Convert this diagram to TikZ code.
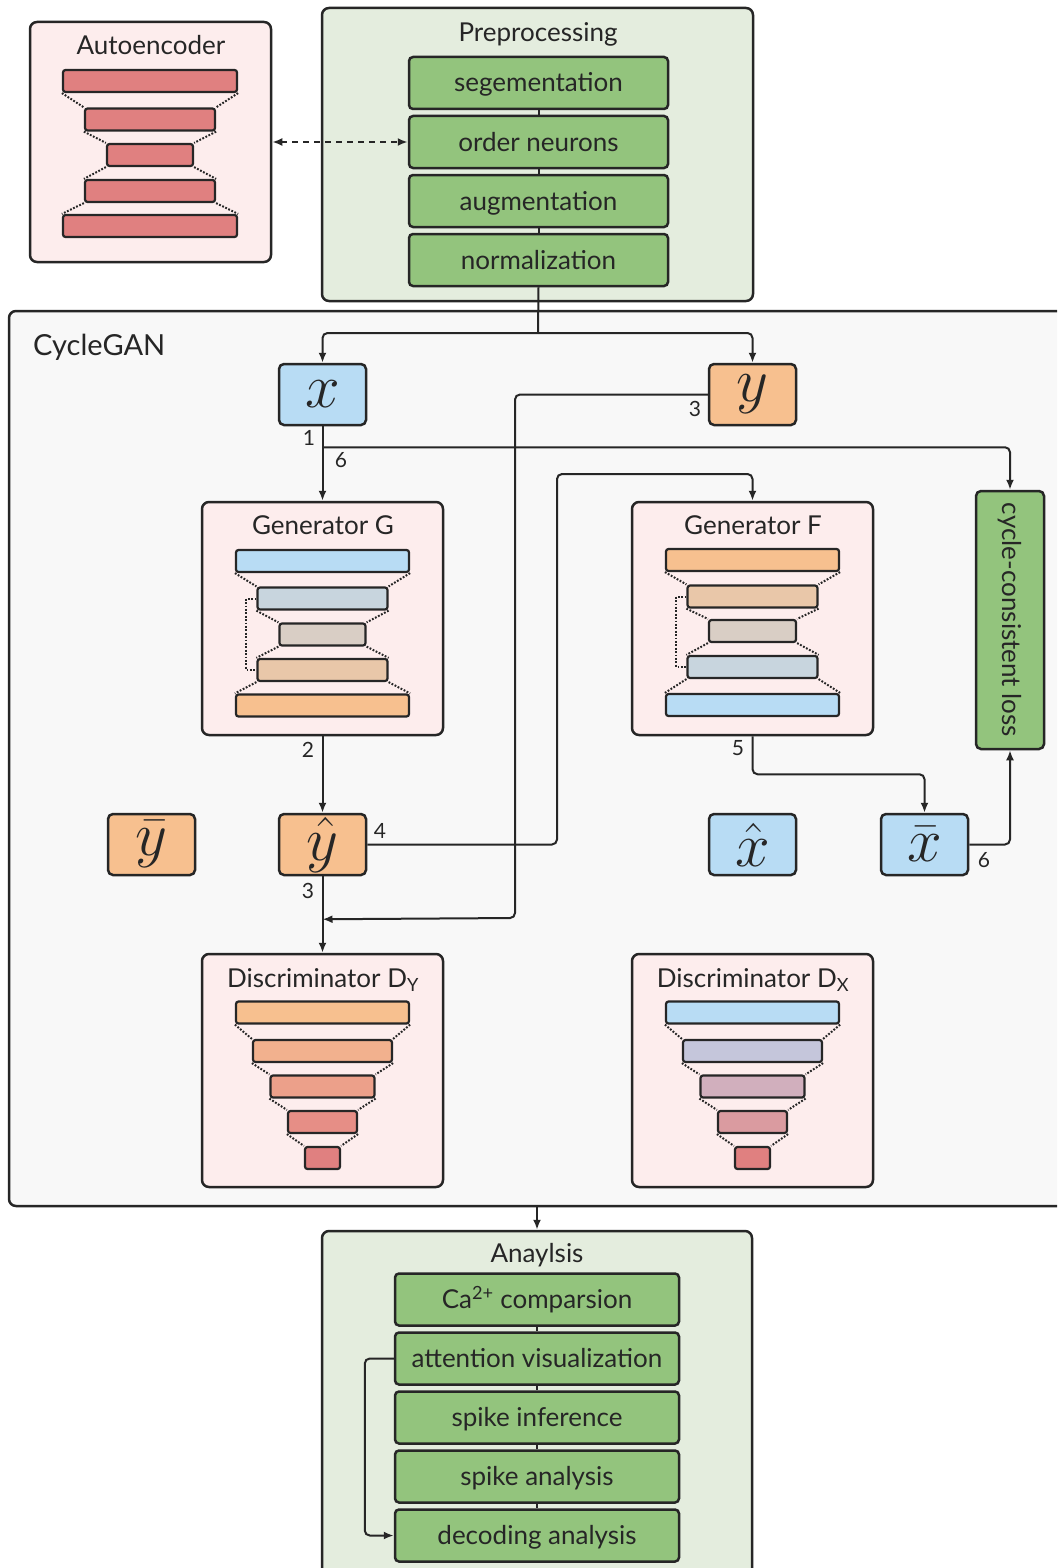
\documentclass[tikz,border=0pt]{standalone}
\usepackage{fontspec}
\setmainfont{Lato}
\usepackage{graphicx}
\usepackage{tikz}
\usetikzlibrary{arrows.meta, positioning}
\usepackage{xcolor}
\definecolor{ink}{HTML}{262626}
\definecolor{blush}{HTML}{FDEDED}
\definecolor{sage}{HTML}{E4EDDE}
\definecolor{fog}{HTML}{F8F8F8}
\definecolor{leaf}{HTML}{93C47D}
\definecolor{ice}{HTML}{B8DCF4}
\definecolor{apricot}{HTML}{F7C08F}
\definecolor{coral}{HTML}{E08080}
\definecolor{slate}{HTML}{C8D5DE}
\definecolor{sand}{HTML}{D9CEC5}
\definecolor{peach}{HTML}{E9C7A9}
\definecolor{dyb}{HTML}{F2B18E}
\definecolor{dyc}{HTML}{ECA08A}
\definecolor{dyd}{HTML}{E68E86}
\definecolor{dxb}{HTML}{C5C6DB}
\definecolor{dxc}{HTML}{D1AFBD}
\definecolor{dxd}{HTML}{DA9BA0}
\newcommand{\bigvar}[1]{\scalebox{2.5}{$#1$}}

\begin{document}
\begin{tikzpicture}[
    x=1pt, y=-1pt,
    node distance=4.5pt,
    panel/.style={rectangle, rounded corners=7pt, draw=ink, line width=2.5pt, inner sep=0pt},
    netbox/.style={panel, fill=blush, minimum width=241pt, minimum height=233pt},
    heading/.style={anchor=base, inner sep=0pt, text=ink, font=\fontsize{26}{30}\selectfont},
    stepbox/.style={rectangle, rounded corners=4pt, draw=ink, fill=leaf, line width=2.5pt,
                    text=ink, minimum height=52pt, text height=23pt, text depth=5pt,
                    inner sep=0pt, font=\fontsize{26}{30}\selectfont},
    var/.style={rectangle, rounded corners=5pt, draw=ink, line width=2.5pt, text=ink,
                minimum width=87pt, minimum height=61pt, inner sep=0pt,
                font=\fontsize{24.88}{28}\selectfont},
    slab/.style={rectangle, rounded corners=2.5pt, draw=ink, line width=2.2pt,
                 minimum height=22pt, inner sep=0pt},
    funnel/.style={draw=ink, line width=2pt, dash pattern=on 1.8pt off 1.6pt},
    num/.style={inner sep=0pt, text=ink, font=\fontsize{21}{24}\selectfont},
    arr/.style={-{Latex[length=10pt, width=8pt]}, line width=2pt, draw=ink, rounded corners=5pt},
    link/.style={line width=2pt, draw=ink},
    darr/.style={{Latex[length=10pt, width=8pt]}-{Latex[length=10pt, width=8pt]},
                 line width=2pt, draw=ink, dash pattern=on 6pt off 5pt},
  ]
    \useasboundingbox (0,0) rectangle (1057,1568);
    \clip (0,0) rectangle (1057,1568);
    \fill[white] (0,0) rectangle (1057,1568);

    % Panels
    \node[panel, fill=fog, minimum width=1066pt, minimum height=895pt] (cg) at (542,758.5) {};
    \node[panel, fill=blush, minimum width=241pt, minimum height=240pt] (ae) at (150.5,142) {};
    \node[panel, fill=sage, minimum width=431pt, minimum height=293pt] (pre) at (537.5,154.5) {};
    \node[panel, fill=sage, minimum width=430pt, minimum height=349pt] (ana) at (537,1405.5) {};

    \node[heading] (aet) at (151,55) {Autoencoder};
    \node[heading] (pret) at (538,42) {Preprocessing};
    \node[heading, anchor=base west, font=\fontsize{29}{33}\selectfont] (cgt) at (33,355) {CycleGAN};
    \node[heading] (anat) at (537,1262) {Anaylsis};

    % Preprocessing steps
    \node[stepbox, minimum width=259pt] (seg) at (538.5,83) {segementation};
    \node[stepbox, minimum width=259pt, below=of seg] (order) {order neurons};
    \node[stepbox, minimum width=259pt, below=of order] (aug) {augmentation};
    \node[stepbox, minimum width=259pt, below=of aug] (norm) {normalization};
    \foreach \a/\b in {seg/order, order/aug, aug/norm}
      \draw[link] (\a.south) -- (\b.north);

    % Analysis steps
    \node[stepbox, minimum width=284pt] (ca) at (537,1299.5) {Ca\textsuperscript{2+} comparsion};
    \node[stepbox, minimum width=284pt, below=of ca] (att) {attention visualization};
    \node[stepbox, minimum width=284pt, below=of att] (inf) {spike inference};
    \node[stepbox, minimum width=284pt, below=of inf] (spk) {spike analysis};
    \node[stepbox, minimum width=284pt, below=of spk] (dec) {decoding analysis};
    \foreach \a/\b in {ca/att, att/inf, inf/spk, spk/dec}
      \draw[link] (\a.south) -- (\b.north);

    % Autoencoder layers
    \foreach \w/\yy [count=\i] in {174/81, 130/119.5, 86/155, 130/191, 174/226}
      \node[slab, fill=coral, minimum width=\w pt] (ae\i) at (150,\yy) {};

    % Networks
    \node[netbox] (genG) at (322.5,618.5) {};
    \node[netbox] (genF) at (752.5,618.5) {};
    \node[netbox] (discY) at (322.5,1070.5) {};
    \node[netbox] (discX) at (752.5,1070.5) {};
    \node[heading] (gt) at (323,534) {Generator G};
    \node[heading] (ft) at (753,534) {Generator F};
    \node[heading] (dyt) at (323,987) {Discriminator D\textsubscript{Y}};
    \node[heading] (dxt) at (753,987) {Discriminator D\textsubscript{X}};

    \foreach \w/\yy/\c [count=\i] in {173/561/ice, 130/598.5/slate, 86/634.5/sand, 130/670/peach, 173/705.5/apricot}
      \node[slab, fill=\c, minimum width=\w pt] (g\i) at (322.5,\yy) {};
    \foreach \w/\yy/\c [count=\i] in {173/560/apricot, 130/596.5/peach, 87/631/sand, 130/667/slate, 173/705/ice}
      \node[slab, fill=\c, minimum width=\w pt] (f\i) at (752.5,\yy) {};
    \foreach \w/\yy/\c [count=\i] in {173/1012.5/apricot, 139/1051/dyb, 104/1086.5/dyc, 69/1122/dyd, 35/1158/coral}
      \node[slab, fill=\c, minimum width=\w pt] (dy\i) at (322.5,\yy) {};
    \foreach \w/\yy/\c [count=\i] in {173/1012.5/ice, 139/1051/dxb, 104/1086.5/dxc, 69/1122/dxd, 35/1158/coral}
      \node[slab, fill=\c, minimum width=\w pt] (dx\i) at (752.5,\yy) {};

    % dotted funnels between layers
    \foreach \s in {ae, g, f, dy, dx}
      \foreach \i/\j in {1/2, 2/3, 3/4, 4/5} {
        \draw[funnel] (\s\i.south west) -- (\s\j.north west);
        \draw[funnel] (\s\i.south east) -- (\s\j.north east);
      }
    \draw[funnel] (g2.west) -- ++(-10,0) |- (g4.west);
    \draw[funnel] (f2.west) -- ++(-10,0) |- (f4.west);

    % Variables
    \node[var, fill=ice] (xin) at (322.5,394.5) {\bigvar{x}};
    \node[var, fill=apricot] (yin) at (752.5,394.5) {\bigvar{y}};
    \node[var, fill=apricot] (ybar) at (151.5,844.5) {\bigvar{\bar{y}}};
    \node[var, fill=apricot] (yhat) at (322.5,844.5) {\bigvar{\hat{y}}};
    \node[var, fill=ice] (xhat) at (752.5,844.5) {\bigvar{\hat{x}}};
    \node[var, fill=ice] (xbar) at (924.5,844.5) {\bigvar{\bar{x}}};

    \node[rectangle, rounded corners=5pt, draw=ink, fill=leaf, line width=2.5pt, text=ink,
          minimum width=68pt, minimum height=258pt, inner sep=0pt,
          font=\fontsize{26}{30}\selectfont] (cyc) at (1010,620)
          {\rotatebox{-90}{cycle-consistent loss}};

    % Connectors
    \draw[darr] (ae.east) -- (ae.east -| order.west);

    \coordinate (split) at (538,333);
    \draw[link] (norm.south) -- (split);
    \draw[arr] (split) -| (xin.north);
    \draw[arr] (split) -| (yin.north);

    \coordinate (xsplit) at ([yshift=-21pt]xin.south);
    \draw[arr] (xin.south) -- (genG.north);
    \draw[arr] (xsplit) -| (cyc.north);

    \coordinate (yjoin) at ([yshift=-43pt]yhat.south);
    \coordinate (ydown) at (515,918);
    \draw[arr] (yin.west) -| (ydown) -- (yjoin);

    \draw[arr] (genG.south) -- (yhat.north);
    \draw[arr] (yhat.south) -- (discY.north);

    \coordinate (fup) at (557,474);
    \draw[arr] (yhat.east) -| (fup) -| (genF.north);

    \draw[arr] (genF.south) -- ++(0,38) -| (xbar.north);
    \draw[arr] (xbar.east) -| (cyc.south);

    \draw[arr] (cg.south -| ana.north) -- (ana.north);
    \draw[arr] (att.west) -- ++(-29,0) |- (dec.west);

    % step numbers
    \node[num] (n1) at (309,438) {1};
    \node[num] (n6a) at (341,460) {6};
    \node[num] (n3a) at (695,409) {3};
    \node[num] (n2) at (308,750) {2};
    \node[num] (n4) at (380,831) {4};
    \node[num] (n3b) at (308,891) {3};
    \node[num] (n5) at (738,748) {5};
    \node[num] (n6b) at (984,860) {6};
  \end{tikzpicture}
\end{document}
